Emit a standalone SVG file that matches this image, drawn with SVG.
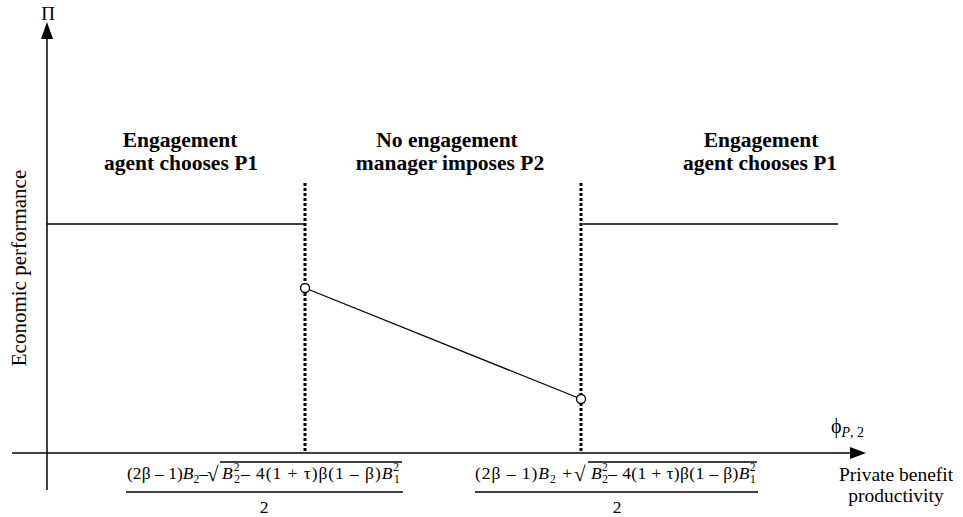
<svg xmlns="http://www.w3.org/2000/svg" width="963" height="517" viewBox="0 0 963 517">
<style>
.ax{stroke:#000;stroke-width:1.5;fill:none}
.ln{stroke:#000;stroke-width:1.3;fill:none}
.dot{stroke:#000;stroke-width:3;stroke-dasharray:3 2;fill:none}
.t{font-family:"Liberation Serif","Times New Roman",serif;fill:#000}
.b{font-weight:bold;font-size:21.5px}
.f{font-size:17.5px}
.i{font-style:italic}
.s{font-size:11.5px}
</style>
<rect width="963" height="517" fill="#fff"/>
<g id="connectors">
<line class="ax" x1="47" y1="490" x2="47" y2="34"/>
<polygon points="47,22 41,39 53,39" fill="#000"/>
<line class="ax" x1="12" y1="453" x2="854" y2="453"/>
<polygon points="866,453 850,447 850,459" fill="#000"/>
<line class="ln" x1="47" y1="224" x2="305" y2="224"/>
<line class="ln" x1="583" y1="224" x2="838" y2="224"/>
<line class="dot" x1="305" y1="183" x2="305" y2="453"/>
<line class="dot" x1="581" y1="183" x2="581" y2="453"/>
<line class="ln" x1="305" y1="288" x2="581" y2="399"/>
</g>
<g id="point1"><circle cx="305" cy="288" r="4.5" fill="#fff" stroke="#000" stroke-width="1.3"/></g>
<g id="point2"><circle cx="581" cy="399" r="4.5" fill="#fff" stroke="#000" stroke-width="1.3"/></g>
<g id="axis-labels">
<text class="t" x="48" y="20" font-size="19" text-anchor="middle">Π</text>
<text class="t" font-size="21" transform="translate(26,268) rotate(-90)" text-anchor="middle">Economic performance</text>
<text class="t" x="831" y="433" font-size="20">ϕ<tspan class="i" font-size="14" dy="4">P</tspan><tspan font-size="14">, 2</tspan></text>
<text class="t" x="896" y="481" font-size="19.5" text-anchor="middle">Private benefit</text>
<text class="t" x="896" y="502" font-size="19.5" text-anchor="middle">productivity</text>
</g>
<g id="region-left">
<text class="t b" x="180" y="147" text-anchor="middle">Engagement</text>
<text class="t b" x="181" y="170" text-anchor="middle">agent chooses P1</text>
</g>
<g id="region-middle">
<text class="t b" x="447" y="147" text-anchor="middle">No engagement</text>
<text class="t b" x="450" y="170" text-anchor="middle">manager imposes P2</text>
</g>
<g id="region-right">
<text class="t b" x="761" y="147" text-anchor="middle">Engagement</text>
<text class="t b" x="760" y="170" text-anchor="middle">agent chooses P1</text>
</g>
<g id="formula-left">
<text class="t f" x="127" y="479" textLength="81" lengthAdjust="spacing">(2β – 1)<tspan class="i">B</tspan><tspan class="s" dy="4">2</tspan><tspan dy="-4">–</tspan></text>
<text class="t" x="207" y="481" font-size="21">√</text>
<line class="ln" x1="220" y1="462" x2="402" y2="462" stroke-width="1"/>
<text class="t f" x="222" y="479" textLength="178" lengthAdjust="spacing"><tspan class="i">B</tspan><tspan class="s" dy="-8">2</tspan><tspan class="s" dx="-6" dy="12">2</tspan><tspan dy="-4">– 4(1 + τ)β(1 – β)</tspan><tspan class="i">B</tspan><tspan class="s" dy="-8">2</tspan><tspan class="s" dx="-6" dy="12">1</tspan></text>
<line class="ln" x1="126" y1="492" x2="403" y2="492" stroke-width="1"/>
<text class="t f" x="264" y="513" text-anchor="middle">2</text>
</g>
<g id="formula-right">
<text class="t f" x="475" y="479" textLength="97" lengthAdjust="spacing">(2β – 1)<tspan class="i">B</tspan><tspan class="s" dy="4">2</tspan><tspan dy="-4"> +</tspan></text>
<text class="t" x="574" y="481" font-size="21">√</text>
<line class="ln" x1="588" y1="462" x2="757" y2="462" stroke-width="1"/>
<text class="t f" x="591" y="479" textLength="165" lengthAdjust="spacing"><tspan class="i">B</tspan><tspan class="s" dy="-8">2</tspan><tspan class="s" dx="-6" dy="12">2</tspan><tspan dy="-4">– 4(1 + τ)β(1 – β)</tspan><tspan class="i">B</tspan><tspan class="s" dy="-8">2</tspan><tspan class="s" dx="-6" dy="12">1</tspan></text>
<line class="ln" x1="475" y1="492" x2="758" y2="492" stroke-width="1"/>
<text class="t f" x="617" y="513" text-anchor="middle">2</text>
</g>
</svg>
